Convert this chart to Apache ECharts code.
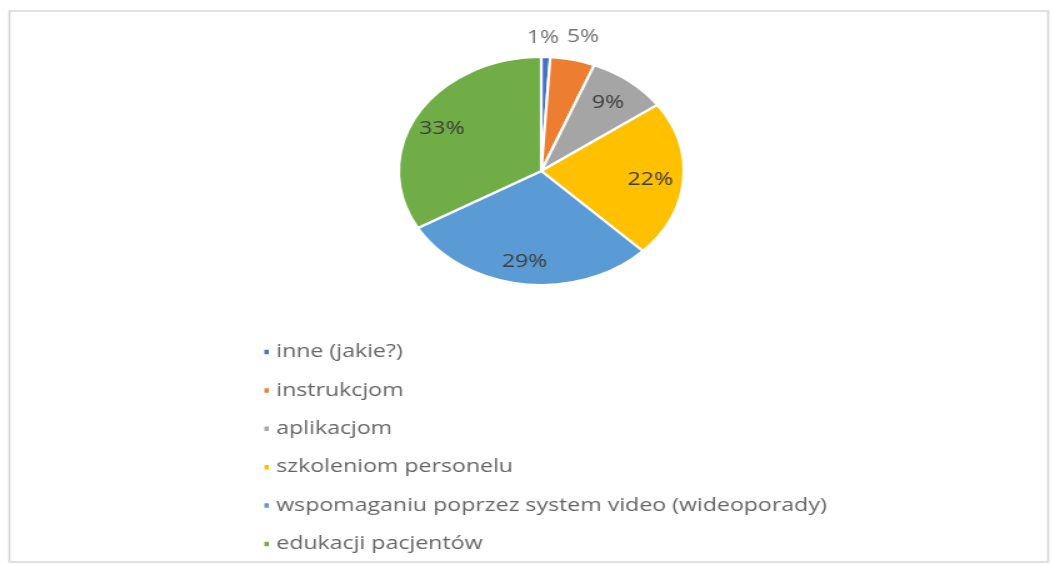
<!DOCTYPE html>
<html>
<head>
<meta charset="utf-8">
<script src="https://cdn.jsdelivr.net/npm/echarts@6/dist/echarts.min.js"></script>
<style>
  html, body { margin: 0; padding: 0; background: #ffffff; overflow: hidden; }
  #wrap { width: 1052px; height: 564px; overflow: hidden; }
  /* the chart is drawn on a narrower canvas and widened, so the pie reads as an ellipse */
  #chart { width: 842px; height: 564px; transform: scaleX(1.25); transform-origin: 0 0; }
</style>
</head>
<body>
<div id="wrap"><div id="chart"></div></div>
<script>
// answer categories and their shares (%)
const categories = [
  'inne (jakie?)',
  'instrukcjom',
  'aplikacjom',
  'szkoleniom personelu',
  'wspomaganiu poprzez system video (wideoporady)',
  'edukacji pacjentów'
];
const shares = [1, 5, 9, 22, 29, 33];
const colors = ['#4472C4', '#ED7D31', '#A5A5A5', '#FFC000', '#5B9BD5', '#70AD47'];
// slices whose label sits above the rim, with a small nudge
const outsideLabels = { 0: [-21, 5], 1: [-15, 0] };

const chart = echarts.init(document.getElementById('chart'), null, { renderer: 'canvas' });

const center = [433, 171];
const R = 114;
const FONT = '"Open Sans", "Noto Sans", sans-serif';

const pieData = categories.map((name, i) => ({
  name,
  value: shares[i],
  itemStyle: { color: colors[i] }
}));

const labelData = categories.map((name, i) => {
  const item = { name, value: shares[i] };
  if (outsideLabels[i]) {
    item.label = {
      position: 'outside',
      color: '#737373',
      offset: outsideLabels[i]
    };
  }
  return item;
});

chart.setOption({
  backgroundColor: '#ffffff',
  animation: false,
  graphic: [{
    type: 'rect',
    shape: { x: 7.5, y: 11, width: 831, height: 551 },
    style: { fill: 'none', stroke: '#d6d6d6', lineWidth: 1.6 },
    silent: true,
    z: -1
  }],
  legend: {
    orient: 'vertical',
    left: 209.5,
    top: 342,
    padding: 0,
    data: categories,
    icon: 'rect',
    itemWidth: 5.5,
    itemHeight: 6.5,
    itemGap: 18.4,
    selectedMode: false,
    textStyle: {
      fontFamily: FONT,
      fontSize: 18.5,
      lineHeight: 20,
      color: '#666666'
    }
  },
  series: [
    {
      type: 'pie',
      center: center,
      radius: R,
      startAngle: 90,
      clockwise: true,
      silent: true,
      label: { show: false },
      labelLine: { show: false },
      itemStyle: { borderColor: '#ffffff', borderWidth: 2.2 },
      data: pieData
    },
    {
      // transparent ring that carries the value labels
      type: 'pie',
      center: center,
      radius: [59, R],
      startAngle: 90,
      clockwise: true,
      silent: true,
      avoidLabelOverlap: false,
      itemStyle: { color: 'rgba(0,0,0,0)', borderWidth: 0 },
      label: {
        show: true,
        position: 'inside',
        formatter: '{c}%',
        fontFamily: FONT,
        fontSize: 18.5,
        color: '#3d3d3d',
        offset: [-2, 2]
      },
      labelLine: { show: false, length: 24, length2: 0 },
      data: labelData
    }
  ]
});
</script>
</body>
</html>
